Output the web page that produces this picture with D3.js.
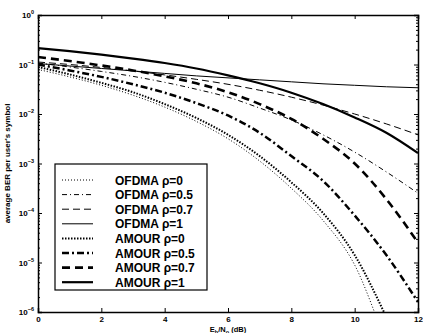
<!DOCTYPE html>
<html lang="en">
<head>
<meta charset="utf-8">
<script src="https://cdn.jsdelivr.net/npm/d3@7"></script>
<style>
  body { margin: 0; background: #fff; }
  .axis path, .axis line { fill: none; stroke: #000; }
  text { font-family: "Liberation Sans", Arial, sans-serif; fill: #000; }
</style>
</head>
<body>
<script>
// Eb/N0 grid (dB)
const snr = [0, 1, 2, 3, 4, 5, 6, 7, 8, 9, 10, 11, 12];

// log10(BER) for each curve
const ofdma0  = [-1.10, -1.25, -1.42, -1.62, -1.86, -2.15, -2.50, -2.95, -3.50, -4.15, -5.05, -6.60, -8.0];
const ofdma05 = [-0.97, -1.05, -1.14, -1.24, -1.36, -1.50, -1.66, -1.88, -2.12, -2.42, -2.77, -3.17, -3.60];
const ofdma07 = [-0.95, -1.00, -1.06, -1.13, -1.21, -1.30, -1.40, -1.52, -1.66, -1.82, -2.00, -2.20, -2.42];
const ofdma1  = [-0.98, -1.03, -1.08, -1.13, -1.18, -1.23, -1.27, -1.31, -1.35, -1.39, -1.42, -1.45, -1.47];
const amour0  = [-1.05, -1.20, -1.37, -1.56, -1.80, -2.08, -2.42, -2.85, -3.38, -4.00, -4.85, -6.10, -7.5];
const amour05 = [-1.00, -1.12, -1.25, -1.40, -1.57, -1.78, -2.03, -2.38, -2.85, -3.35, -4.05, -4.85, -5.80];
const amour07 = [-0.85, -0.93, -1.02, -1.12, -1.24, -1.38, -1.56, -1.80, -2.10, -2.50, -3.00, -3.72, -4.60];
const amour1  = [-0.67, -0.73, -0.80, -0.88, -0.97, -1.08, -1.22, -1.38, -1.57, -1.80, -2.07, -2.38, -2.79];

const names = ["OFDMA \u03c1=0", "OFDMA \u03c1=0.5", "OFDMA \u03c1=0.7", "OFDMA \u03c1=1",
               "AMOUR \u03c1=0", "AMOUR \u03c1=0.5", "AMOUR \u03c1=0.7", "AMOUR \u03c1=1"];
const curves = [ofdma0, ofdma05, ofdma07, ofdma1, amour0, amour05, amour07, amour1];

const xTicks = [0, 2, 4, 6, 8, 10, 12];
const yTicks = [0, -1, -2, -3, -4, -5, -6];

// line styles: [width, dasharray]
const styles = [
  [1, "1,2"], [1, "5,3,1,3"], [1, "7,4"], [1, null],
  [2, "1.5,1.5"], [2.5, "7,3,2,3"], [2.6, "8,5"], [2.2, null]
];

const w = 423, h = 333;
const m = {left: 38, right: 5, top: 15, bottom: 21};

const svg = d3.select("body").append("svg")
  .attr("width", w).attr("height", h);

const x = d3.scaleLinear().domain([0, 12]).range([m.left, w - m.right]);
const y = d3.scaleLog().domain([1e-6, 1]).range([h - m.bottom, m.top]);

svg.append("clipPath").attr("id", "clip")
  .append("rect")
  .attr("x", m.left).attr("y", m.top)
  .attr("width", w - m.left - m.right).attr("height", h - m.top - m.bottom);

const line = d3.line()
  .x((d, i) => x(snr[i]))
  .y(d => y(Math.pow(10, d)))
  .curve(d3.curveMonotoneX);

const g = svg.append("g").attr("clip-path", "url(#clip)");
curves.forEach((c, i) => {
  g.append("path")
    .attr("d", line(c))
    .attr("fill", "none")
    .attr("stroke", "#000")
    .attr("stroke-width", styles[i][0])
    .attr("stroke-dasharray", styles[i][1]);
});

// minor log ticks
const minor = [];
for (let e = -6; e < 0; e++) for (let k = 2; k < 10; k++) minor.push(k * Math.pow(10, e));

// axes, MATLAB style ticks pointing in
svg.append("g").attr("class", "axis")
  .attr("transform", `translate(0,${h - m.bottom})`)
  .call(d3.axisBottom(x).tickValues(xTicks).tickSize(-4).tickPadding(4).tickFormat(d3.format("d")))
  .selectAll("text").style("font-size", "8px").style("font-weight", "bold");

svg.append("g").attr("class", "axis")
  .attr("transform", `translate(0,${m.top})`)
  .call(d3.axisTop(x).tickValues(xTicks).tickSize(-4).tickFormat(""));

const yl = svg.append("g").attr("class", "axis")
  .attr("transform", `translate(${m.left},0)`)
  .call(d3.axisLeft(y).tickValues(yTicks.map(e => Math.pow(10, e))).tickSize(-4).tickFormat(""));
yl.append("g").call(d3.axisLeft(y).tickValues(minor).tickSize(-2).tickFormat(""))
  .select(".domain").remove();

const yr = svg.append("g").attr("class", "axis")
  .attr("transform", `translate(${w - m.right},0)`)
  .call(d3.axisRight(y).tickValues(yTicks.map(e => Math.pow(10, e))).tickSize(-4).tickFormat(""));
yr.append("g").call(d3.axisRight(y).tickValues(minor).tickSize(-2).tickFormat(""))
  .select(".domain").remove();

svg.selectAll(".axis path.domain").attr("stroke-width", 1.5);

// y tick labels 10^e
yTicks.forEach(e => {
  const t = svg.append("text")
    .attr("x", m.left - 4).attr("y", y(Math.pow(10, e)) + 3)
    .attr("text-anchor", "end")
    .style("font-size", "8px").style("font-weight", "bold");
  t.append("tspan").text("10");
  t.append("tspan").attr("dy", -4).style("font-size", "5.5px").text(e === 0 ? "0" : "\u2212" + (-e));
});

// axis labels
const xl = svg.append("text")
  .attr("x", x(6)).attr("y", h - 1)
  .attr("text-anchor", "middle")
  .style("font-size", "7.5px").style("font-weight", "bold");
xl.append("tspan").text("E");
xl.append("tspan").attr("dy", 1.5).style("font-size", "5.5px").text("b");
xl.append("tspan").attr("dy", -1.5).text("/N");
xl.append("tspan").attr("dy", 1.5).style("font-size", "5.5px").text("o");
xl.append("tspan").attr("dy", -1.5).text(" (dB)");

svg.append("text")
  .attr("transform", `translate(10,${(m.top + h - m.bottom) / 2}) rotate(-90)`)
  .attr("text-anchor", "middle")
  .style("font-size", "8px").style("font-weight", "bold")
  .text("average BER per user's symbol");

// legend
const lg = svg.append("g").attr("transform", "translate(55,164)");
lg.append("rect")
  .attr("width", 152).attr("height", 126)
  .attr("fill", "#fff").attr("stroke", "#000").attr("stroke-width", 1.2);
names.forEach((n, i) => {
  const yy = 16 + i * 14.6;
  lg.append("line")
    .attr("x1", 7).attr("x2", 38).attr("y1", yy).attr("y2", yy)
    .attr("stroke", "#000")
    .attr("stroke-width", styles[i][0])
    .attr("stroke-dasharray", styles[i][1]);
  lg.append("text")
    .attr("x", 60).attr("y", yy + 4.5)
    .style("font-size", "12px").style("font-weight", "bold")
    .text(n);
});
</script>
</body>
</html>
